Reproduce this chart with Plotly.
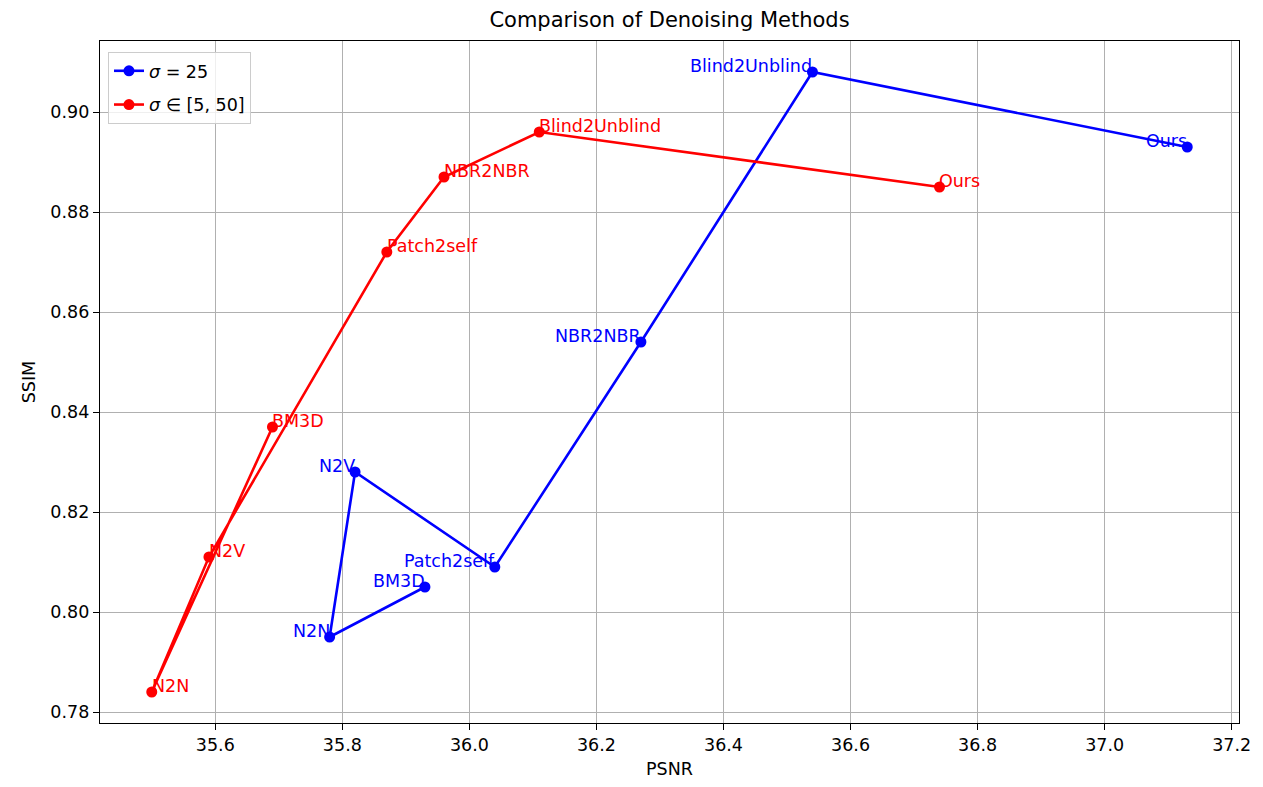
import plotly.graph_objects as go

methods = ["BM3D", "N2N", "N2V", "Patch2self", "NBR2NBR", "Blind2Unblind", "Ours"]
psnr_25 = [35.93, 35.78, 35.82, 36.04, 36.27, 36.54, 37.13]
ssim_25 = [0.805, 0.795, 0.828, 0.809, 0.854, 0.908, 0.893]
psnr_range = [35.69, 35.50, 35.59, 35.87, 35.96, 36.11, 36.74]
ssim_range = [0.837, 0.784, 0.811, 0.872, 0.887, 0.896, 0.885]

x_ticks = [35.6, 35.8, 36.0, 36.2, 36.4, 36.6, 36.8, 37.0, 37.2]
y_ticks = [0.78, 0.80, 0.82, 0.84, 0.86, 0.88, 0.90]

BLUE = "#0000ff"
RED = "#ff0000"
FONT = "DejaVu Sans"
FS = 17.5

fig = go.Figure()
fig.add_trace(go.Scatter(
    x=psnr_25, y=ssim_25, mode="lines+markers", name="<i>σ</i> = 25",
    line=dict(color=BLUE, width=2.6), marker=dict(color=BLUE, size=11),
    legendgroup="a"))
fig.add_trace(go.Scatter(
    x=psnr_range, y=ssim_range, mode="lines+markers", name="<i>σ</i> ∈ [5, 50]",
    line=dict(color=RED, width=2.6), marker=dict(color=RED, size=11),
    legendgroup="b"))

for m, x, y in zip(methods, psnr_25, ssim_25):
    fig.add_annotation(x=x, y=y, text=m, showarrow=False, xanchor="right",
                       yanchor="bottom", xshift=2, yshift=-6,
                       font=dict(color=BLUE, size=FS, family=FONT))
for m, x, y in zip(methods, psnr_range, ssim_range):
    fig.add_annotation(x=x, y=y, text=m, showarrow=False, xanchor="left",
                       yanchor="bottom", xshift=-2, yshift=-6,
                       font=dict(color=RED, size=FS, family=FONT))

all_x = psnr_25 + psnr_range
all_y = ssim_25 + ssim_range
xr = max(all_x) - min(all_x)
yr = max(all_y) - min(all_y)

axis_common = dict(
    showgrid=True, gridcolor="#b0b0b0", gridwidth=1.4,
    showline=True, linecolor="black", linewidth=1.4, mirror=True,
    ticks="outside", ticklen=6, tickwidth=1.4, tickcolor="black",
    tickfont=dict(size=FS, family=FONT, color="black"),
    zeroline=False,
)

W, H = 1255, 779
fig.update_layout(
    width=W, height=H,
    margin=dict(l=92, r=21, t=33, b=64),
    paper_bgcolor="white", plot_bgcolor="white",
    font=dict(family=FONT, size=FS, color="black"),
    title=dict(text="Comparison of Denoising Methods", x=0.5, xref="paper",
               y=1 - 12 / H, yref="container", yanchor="middle",
               font=dict(size=21, family=FONT, color="black")),
    xaxis=dict(range=[min(all_x) - 0.05 * xr, max(all_x) + 0.05 * xr],
               tickvals=x_ticks, tickformat=".1f",
               title=dict(text="PSNR", standoff=8,
                          font=dict(size=FS, family=FONT)),
               **axis_common),
    yaxis=dict(range=[min(all_y) - 0.05 * yr, max(all_y) + 0.05 * yr],
               tickvals=y_ticks, tickformat=".2f",
               title=dict(text="SSIM", standoff=10,
                          font=dict(size=FS, family=FONT)),
               **axis_common),
    legend=dict(x=0.007, y=0.984, xanchor="left", yanchor="top",
                bgcolor="rgba(255,255,255,0.8)", bordercolor="#cccccc",
                borderwidth=1, traceorder="grouped", tracegroupgap=8,
                font=dict(size=FS, family=FONT)),
    showlegend=True,
)

fig.write_html("out.html")
